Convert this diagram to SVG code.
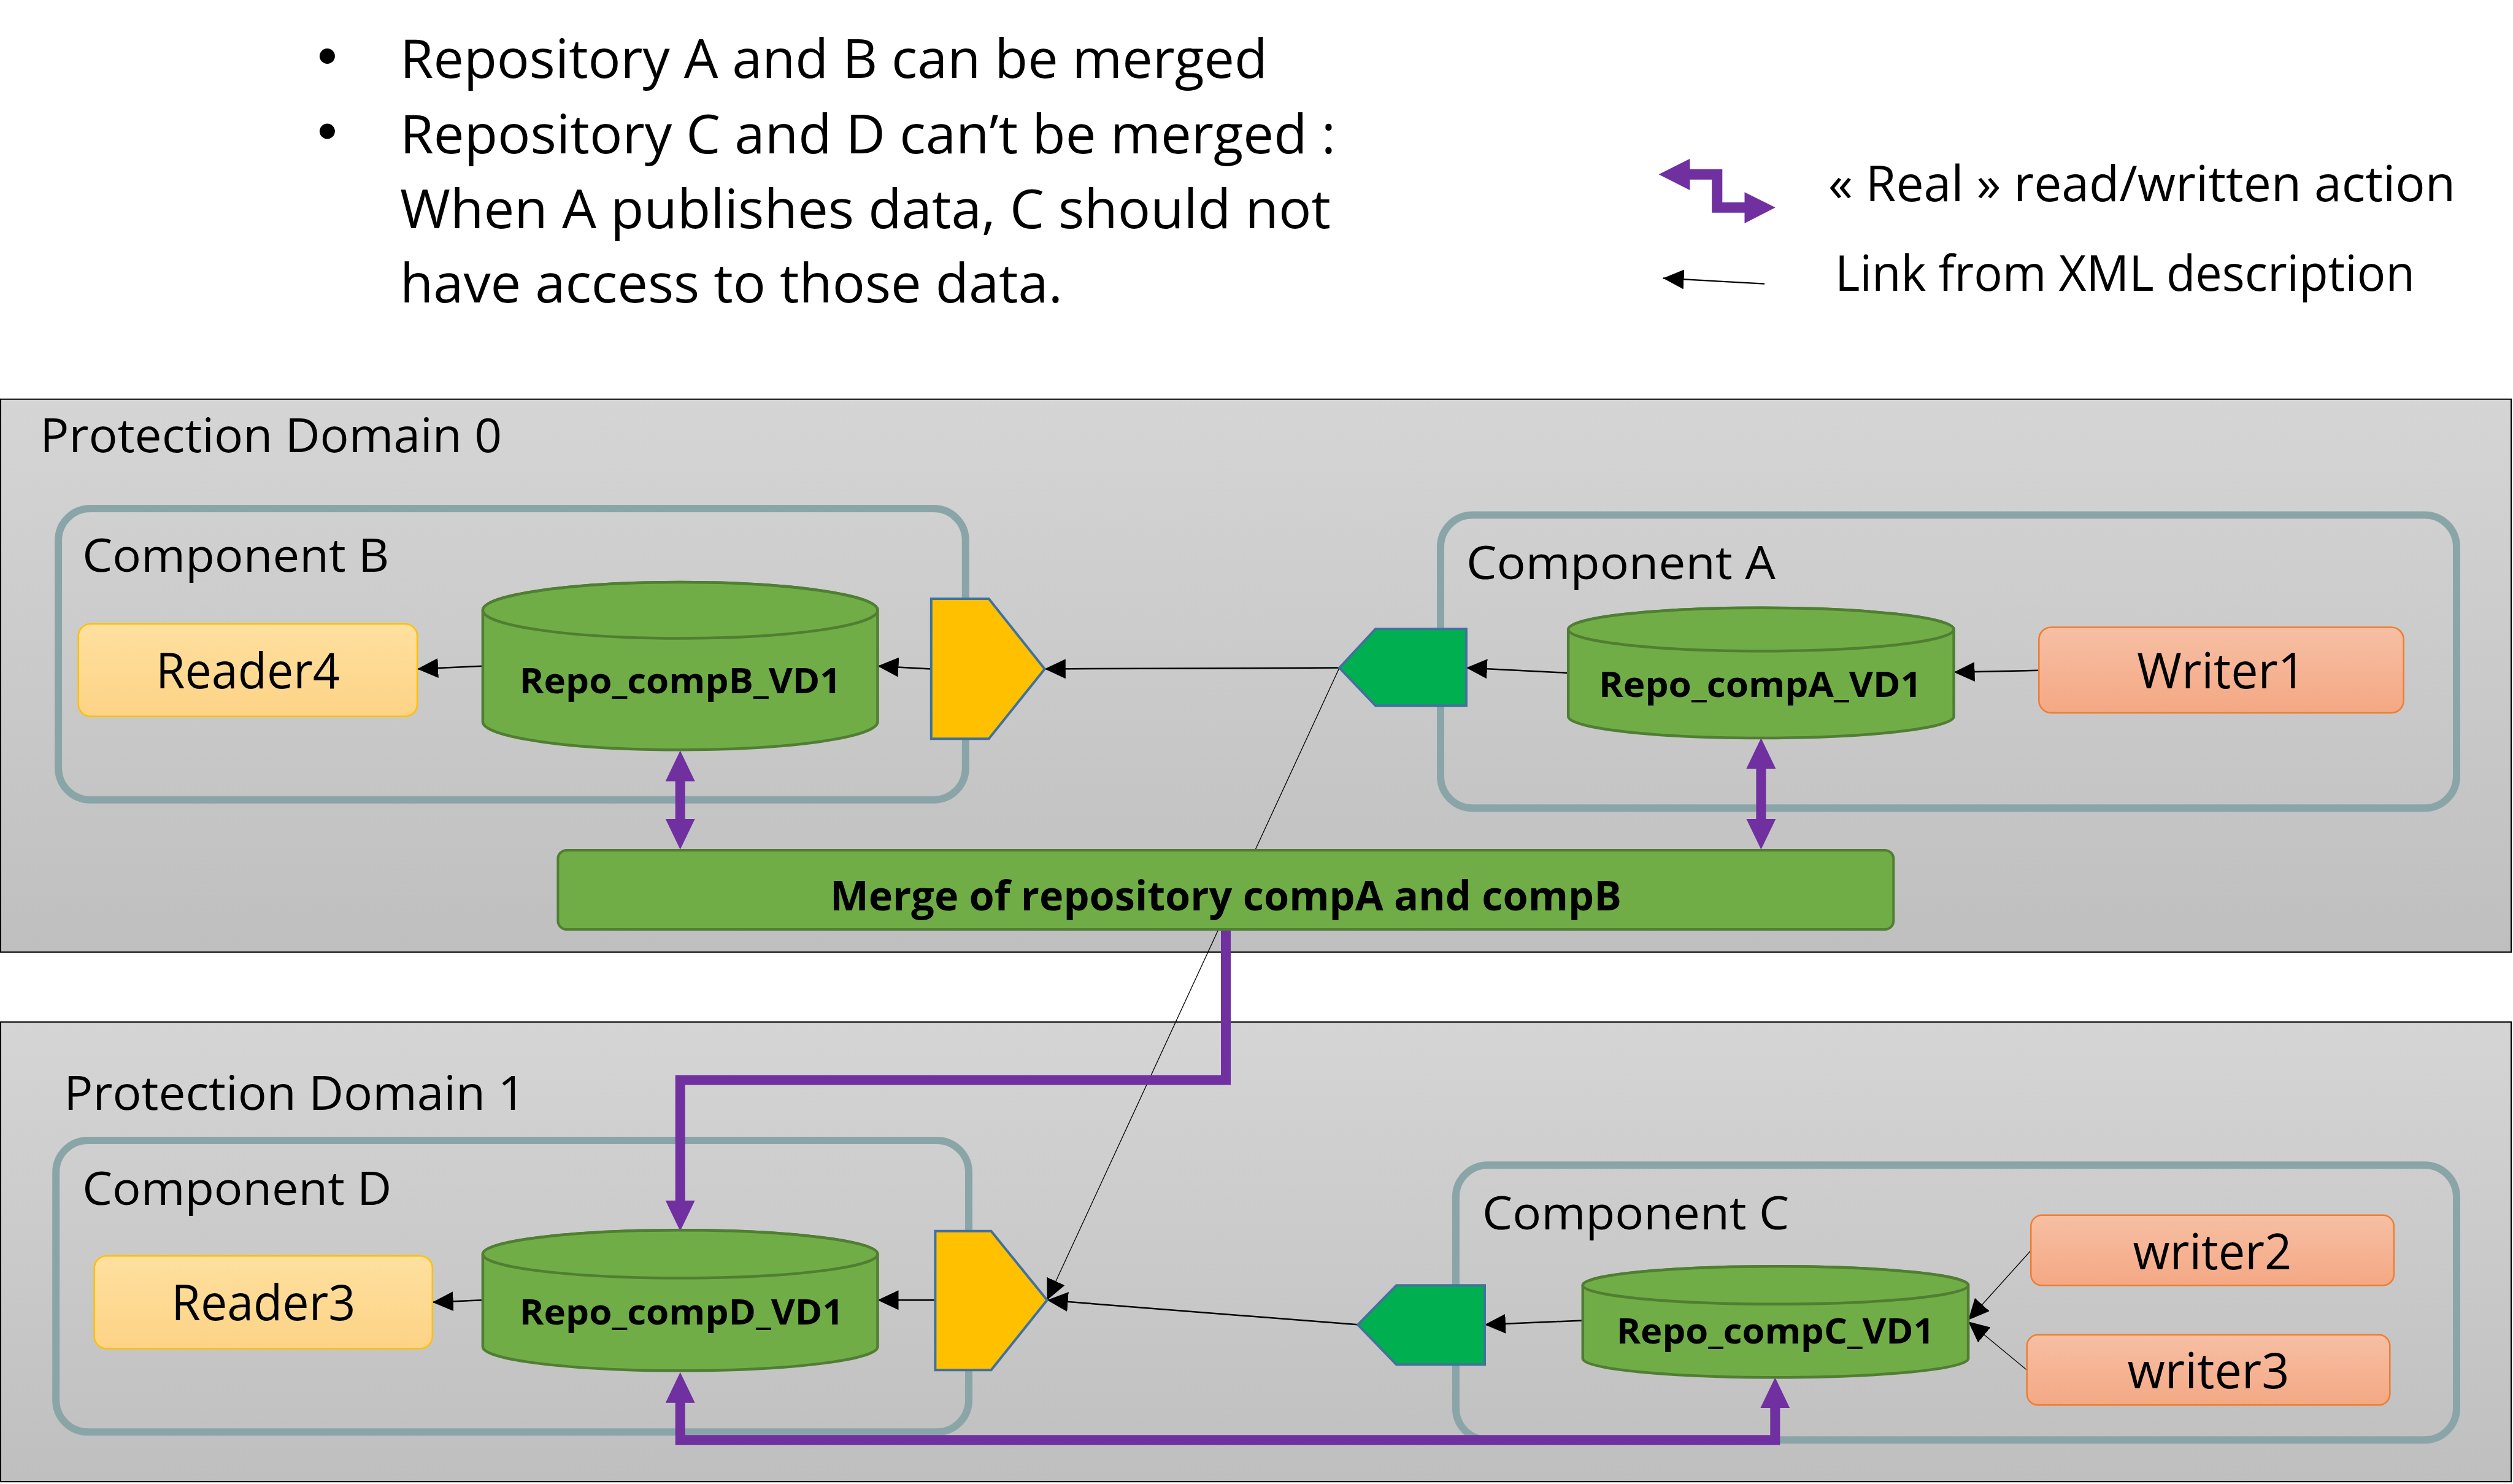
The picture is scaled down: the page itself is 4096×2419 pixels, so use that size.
<svg xmlns="http://www.w3.org/2000/svg" width="4096" height="2419" viewBox="0 0 4096 2419">
<defs>
<style>
text{font-family:"Open Sans","Noto Sans","Liberation Sans",sans-serif;fill:#000}
.bul{font-size:88px}
.leg{font-size:80px}
.pd{font-size:76px}
.cmp{font-size:75.5px}
.lbl{font-size:80px}
.repo{font-size:57px;font-weight:bold}
.mrg{font-size:66px;font-weight:bold}
.dom{fill:url(#gDom);stroke:#000;stroke-width:2}
.comp{fill:none;stroke:#8aa5a8;stroke-width:12}
.cyl{fill:#70ad47;stroke:#507e32;stroke-width:4.5}
.rdr{fill:url(#gRdr);stroke:#ffc000;stroke-width:2.5}
.wrt{fill:url(#gWrt);stroke:#ed7d31;stroke-width:2.5}
.pin{fill:#ffc000;stroke:#41719c;stroke-width:4}
.pout{fill:#00b050;stroke:#41719c;stroke-width:4}
.lk{fill:none;stroke:#000;stroke-width:2.5;marker-end:url(#ah)}
.lkt{fill:none;stroke:#000;stroke-width:1.3;marker-end:url(#ah)}
.rw{fill:none;stroke:#7030a0;stroke-width:16;stroke-linejoin:miter}
</style>
<linearGradient id="gDom" x1="0" y1="0" x2="0" y2="1"><stop offset="0" stop-color="#d5d5d5"/><stop offset="1" stop-color="#bfbfbf"/></linearGradient>
<linearGradient id="gRdr" x1="0" y1="0" x2="0" y2="1"><stop offset="0" stop-color="#fee09f"/><stop offset="1" stop-color="#fdd386"/></linearGradient>
<linearGradient id="gWrt" x1="0" y1="0" x2="0" y2="1"><stop offset="0" stop-color="#f7bfa4"/><stop offset="1" stop-color="#f4a884"/></linearGradient>
<marker id="ah" markerUnits="userSpaceOnUse" viewBox="0 0 34 32" markerWidth="34" markerHeight="32" refX="34" refY="16" orient="auto"><path d="M0,0 L34,16 L0,32 z" fill="#000"/></marker>
<marker id="ph" markerUnits="userSpaceOnUse" viewBox="0 0 50 48" markerWidth="50" markerHeight="48" refX="4" refY="24" orient="auto-start-reverse"><path d="M0,0 L50,24 L0,48 z" fill="#7030a0"/></marker>
</defs>

<g id="notes">
<circle cx="533.4" cy="91.5" r="12.5" fill="#000"/>
<text class="bul" x="652" y="127.1" textLength="1414" lengthAdjust="spacingAndGlyphs">Repository A and B can be merged</text>
<circle cx="533.4" cy="214" r="12.5" fill="#000"/>
<text class="bul" x="652" y="249.7" textLength="1525" lengthAdjust="spacingAndGlyphs">Repository C and D can’t be merged :</text>
<text class="bul" x="652" y="371.8" textLength="1517" lengthAdjust="spacingAndGlyphs">When A publishes data, C should not</text>
<text class="bul" x="652" y="493.4" textLength="1080" lengthAdjust="spacingAndGlyphs">have access to those data.</text>
</g>

<g id="legend">
<polygon fill="#7030a0" points="2703.6,284.2 2754.4,258.8 2754.4,275.8 2807.3,275.8 2807.3,329.8 2843.5,329.8 2843.5,313.3 2893.8,338.3 2843.5,363.9 2843.5,346.8 2790.2,346.8 2790.2,292.8 2754.4,292.8 2754.4,309.9"/>
<text class="leg" x="2980" y="327.6" textLength="1022" lengthAdjust="spacingAndGlyphs">« Real » read/written action</text>
<line x1="2876" y1="462.6" x2="2710.6" y2="453.5" stroke="#000" stroke-width="2.3" marker-end="url(#ah)"/>
<text class="leg" x="2991" y="474" textLength="945" lengthAdjust="spacingAndGlyphs">Link from XML description</text>
</g>

<g id="pd0">
<rect class="dom" x="1" y="650.7" width="4092" height="901.2"/>
<text class="pd" x="65.2" y="736.9" textLength="753" lengthAdjust="spacingAndGlyphs">Protection Domain 0</text>
</g>
<g id="pd1">
<rect class="dom" x="1" y="1665.9" width="4092" height="749.3"/>
<text class="pd" x="104.3" y="1809.4" textLength="752" lengthAdjust="spacingAndGlyphs">Protection Domain 1</text>
</g>

<g id="compB">
<rect class="comp" x="95.1" y="829" width="1478.7" height="474.8" rx="52" ry="52"/>
<text class="cmp" x="134.2" y="931.5" textLength="500" lengthAdjust="spacingAndGlyphs">Component B</text>
</g>
<g id="compA">
<rect class="comp" x="2348" y="839.5" width="1656" height="477.8" rx="52" ry="52"/>
<text class="cmp" x="2389.9" y="943.9" textLength="504" lengthAdjust="spacingAndGlyphs">Component A</text>
</g>
<g id="compD">
<rect class="comp" x="91.2" y="1858.9" width="1487.8" height="475.4" rx="52" ry="52"/>
<text class="cmp" x="134.2" y="1964.3" textLength="504" lengthAdjust="spacingAndGlyphs">Component D</text>
</g>
<g id="compC">
<rect class="comp" x="2372.9" y="1899.3" width="1631.1" height="448" rx="52" ry="52"/>
<text class="cmp" x="2416.1" y="2004.3" textLength="500" lengthAdjust="spacingAndGlyphs">Component C</text>
</g>

<g id="connectors">
<line class="lk" x1="2183.1" y1="1088.6" x2="1702.8" y2="1090.4"/>
<line class="lk" x1="1517.8" y1="1090.4" x2="1430.5" y2="1085.7"/>
<line class="lk" x1="786.9" y1="1085.7" x2="680.1" y2="1090.4"/>
<line class="lk" x1="3323.3" y1="1092.8" x2="3184.6" y2="1095.7"/>
<line class="lk" x1="2556.2" y1="1096.9" x2="2389.9" y2="1088.6"/>
<line class="lkt" x1="2183.1" y1="1088.6" x2="1706.7" y2="2119.3"/>
<line class="lk" x1="2213.2" y1="2159.3" x2="1706.7" y2="2119.3"/>
<line class="lk" x1="1524.4" y1="2119.3" x2="1430.5" y2="2119.3"/>
<line class="lk" x1="786.9" y1="2119.3" x2="704.8" y2="2122.7"/>
<line class="lk" x1="2579.8" y1="2152.5" x2="2420" y2="2159.3"/>
<line class="lkt" x1="3310.2" y1="2038.3" x2="3208.1" y2="2151.8"/>
<line class="lkt" x1="3303.7" y1="2233.3" x2="3208.1" y2="2154.3"/>
<line class="rw" x1="1108.7" y1="1269.5" x2="1108.7" y2="1338.8" marker-start="url(#ph)" marker-end="url(#ph)"/>
<line class="rw" x1="2870.4" y1="1249" x2="2870.4" y2="1338.8" marker-start="url(#ph)" marker-end="url(#ph)"/>
<polyline class="rw" points="1998,1515 1998,1760.6 1108.7,1760.6 1108.7,1960.8" marker-end="url(#ph)"/>
<polyline class="rw" points="2893.3,2291.3 2893.3,2347.3 1108.7,2347.3 1108.7,2282.8" marker-start="url(#ph)" marker-end="url(#ph)"/>
</g>

<g id="reader4">
<rect class="rdr" x="127.7" y="1017.1" width="552.4" height="150.7" rx="20"/>
<text class="lbl" x="253.9" y="1122.1" textLength="300" lengthAdjust="spacingAndGlyphs">Reader4</text>
</g>
<g id="repoB">
<path class="cyl" d="M786.9,994.8 V1176.6 A321.8,45.7 0 0 0 1430.5,1176.6 V994.8 A321.8,45.7 0 0 0 786.9,994.8 Z"/>
<ellipse class="cyl" cx="1108.7" cy="994.8" rx="321.8" ry="45.7"/>
<text class="repo" x="846.8" y="1129.7" textLength="524" lengthAdjust="spacingAndGlyphs">Repo_compB_VD1</text>
</g>
<g id="portB">
<polygon class="pin" points="1517.8,976.1 1611.7,976.1 1702.8,1090.4 1611.7,1204.2 1517.8,1204.2"/>
</g>
<g id="portA">
<polygon class="pout" points="2183.1,1088.6 2242,1025.3 2389.9,1025.3 2389.9,1150.2 2242,1150.2"/>
</g>
<g id="repoA">
<path class="cyl" d="M2556.2,1026 V1167.8 A314.2,35.2 0 0 0 3184.6,1167.8 V1026 A314.2,35.2 0 0 0 2556.2,1026 Z"/>
<ellipse class="cyl" cx="2870.4" cy="1026" rx="314.2" ry="35.2"/>
<text class="repo" x="2606" y="1135.6" textLength="526" lengthAdjust="spacingAndGlyphs">Repo_compA_VD1</text>
</g>
<g id="writer1">
<rect class="wrt" x="3323.3" y="1022.4" width="594.4" height="139.6" rx="20"/>
<text class="lbl" x="3483" y="1122.1" textLength="275" lengthAdjust="spacingAndGlyphs">Writer1</text>
</g>
<g id="merge">
<rect x="909.4" y="1385.9" width="2176.9" height="129.1" rx="14" fill="#70ad47" stroke="#507e32" stroke-width="4"/>
<text class="mrg" x="1353" y="1484.4" textLength="1290" lengthAdjust="spacingAndGlyphs">Merge of repository compA and compB</text>
</g>

<g id="reader3">
<rect class="rdr" x="153.7" y="2047.3" width="551.1" height="151" rx="20"/>
<text class="lbl" x="279.3" y="2151.8" textLength="300" lengthAdjust="spacingAndGlyphs">Reader3</text>
</g>
<g id="repoD">
<path class="cyl" d="M786.9,2044.3 V2195.3 A321.8,39 0 0 0 1430.5,2195.3 V2044.3 A321.8,39 0 0 0 786.9,2044.3 Z"/>
<ellipse class="cyl" cx="1108.7" cy="2044.3" rx="321.8" ry="39"/>
<text class="repo" x="846.8" y="2159.3" textLength="528" lengthAdjust="spacingAndGlyphs">Repo_compD_VD1</text>
</g>
<g id="portD">
<polygon class="pin" points="1524.4,2006.8 1615.5,2006.8 1706.7,2119.3 1615.5,2233.3 1524.4,2233.3"/>
</g>
<g id="portC">
<polygon class="pout" points="2213.2,2159.3 2276,2095.3 2420,2095.3 2420,2224.3 2276,2224.3"/>
</g>
<g id="repoC">
<path class="cyl" d="M2579.8,2095 V2214.6 A314.15,30.7 0 0 0 3208.1,2214.6 V2095 A314.15,30.7 0 0 0 2579.8,2095 Z"/>
<ellipse class="cyl" cx="2893.95" cy="2095" rx="314.15" ry="30.7"/>
<text class="repo" x="2634.7" y="2190.3" textLength="518" lengthAdjust="spacingAndGlyphs">Repo_compC_VD1</text>
</g>
<g id="writer2">
<rect class="wrt" x="3310.2" y="1980.8" width="591.7" height="114.5" rx="18"/>
<text class="lbl" x="3476.5" y="2069.3" textLength="259" lengthAdjust="spacingAndGlyphs">writer2</text>
</g>
<g id="writer3">
<rect class="wrt" x="3303.7" y="2175.8" width="591.6" height="114.5" rx="18"/>
<text class="lbl" x="3467.5" y="2263.2" textLength="264" lengthAdjust="spacingAndGlyphs">writer3</text>
</g>
</svg>
